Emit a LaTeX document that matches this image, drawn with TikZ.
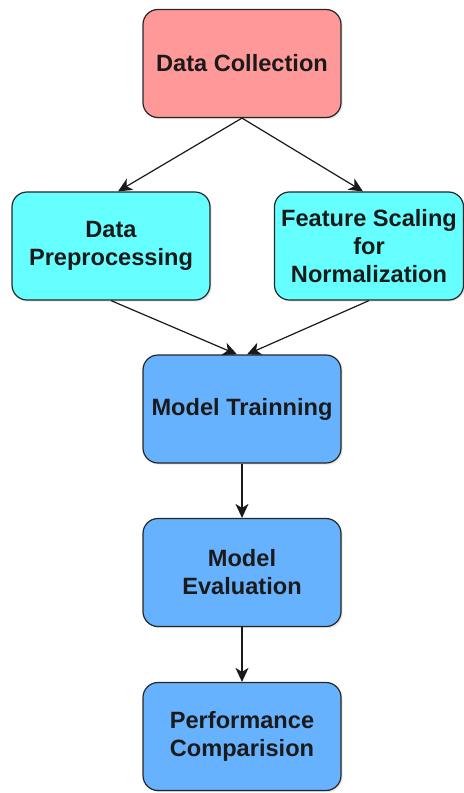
\documentclass[tikz,border=0pt]{standalone}
\usepackage{fontspec}
\setmainfont{Liberation Sans}
\usepackage{tikz}
\usetikzlibrary{shapes.misc,shadows,arrows.meta}

\definecolor{collectpink}{RGB}{255,153,153}
\definecolor{prepcyan}{RGB}{102,255,255}
\definecolor{modelblue}{RGB}{102,178,255}
\definecolor{textdark}{RGB}{26,26,26}

\tikzset{
	stagebox/.style={draw=black!85, line width=0.6pt, rounded corners=7.5pt,
		minimum width=99pt, minimum height=54pt, align=center, text=textdark,
		font=\bfseries\fontsize{11.8}{14}\selectfont,
		drop shadow={opacity=0.2, shadow xshift=0.8pt, shadow yshift=-0.8pt}},
	flow/.style={-{Stealth[length=7pt,width=6.5pt,inset=2pt]}, line width=0.6pt, black!90},
}

\begin{document}
\begin{tikzpicture}[x=0.5pt, y=-0.5pt]
	\useasboundingbox (0,0) rectangle (464,793);
	\node[stagebox, fill=collectpink] (collect) at (242,63.5) {Data Collection};
	\node[stagebox, fill=prepcyan] (prep) at (111,246) {Data\\Preprocessing};
	\node[stagebox, fill=prepcyan, minimum width=94pt] (scale) at (369,246) {Feature Scaling\\for\\Normalization};
	\node[stagebox, fill=modelblue] (train) at (242,409) {Model Trainning};
	\node[stagebox, fill=modelblue] (eval) at (242,572.5) {Model\\Evaluation};
	\node[stagebox, fill=modelblue] (compare) at (242,736.5) {Performance\\Comparision};
	% connectors
	\draw[flow] (collect.south) -- ([xshift=3.5pt]prep.north);
	\draw[flow] (collect.south) -- ([xshift=-3pt]scale.north);
	\draw[flow] (prep.south) -- ([xshift=-2.5pt]train.north);
	\draw[flow] (scale.south) -- ([xshift=2.5pt]train.north);
	\draw[flow] (train) -- (eval);
	\draw[flow] (eval) -- (compare);
\end{tikzpicture}
\end{document}
